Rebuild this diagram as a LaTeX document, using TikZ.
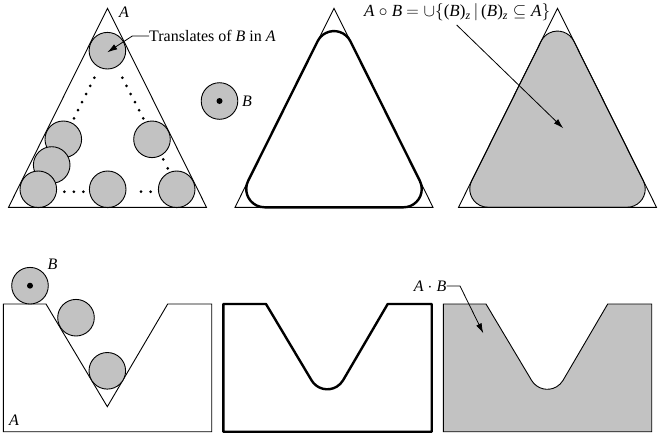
\documentclass[tikz,border=0pt]{standalone}
\usepackage{amsmath}
\usepackage{fontspec}
\setmainfont{Liberation Serif}
\usetikzlibrary{arrows.meta}
\definecolor{fillgray}{RGB}{194,194,194}
\begin{document}
\begin{tikzpicture}[x=1pt,y=-1pt,
  thin line/.style={line width=0.9pt, black},
  thick line/.style={line width=2.4pt, black, line join=round},
  disk/.style={circle, draw=black, line width=0.9pt, fill=fillgray, minimum size=36.6pt, inner sep=0pt},
  lbl/.style={font=\fontsize{16}{19}\selectfont, inner sep=0pt},
  ptr/.style={line width=0.8pt, -{Latex[length=10pt,width=6pt]}},
  rtri/.pic={
    \path[pic actions] (-69.45,199) -- (69.45,199) arc[start angle=90, end angle=-26.45, radius=18.3]
      -- (16.38,32.93) arc[start angle=-26.45, end angle=-153.55, radius=18.3]
      -- (-85.84,172.54) arc[start angle=206.45, end angle=90, radius=18.3] -- cycle;
  },
  tri/.pic={\draw[line width=0.9pt] (0,0) -- (-99,199) -- (99,199) -- cycle;}
]
\useasboundingbox (0,0) rectangle (658,434);

% ---------- Panel 1 ----------
\node[disk] (c1) at (107.4,50.7) {};
\node[disk] (c2) at (63.3,139.3) {};
\node[disk] (c3) at (51.7,165) {};
\node[disk] (c4) at (38.3,189.3) {};
\node[disk] (c5) at (107.7,189.3) {};
\node[disk] (c6) at (152,139.3) {};
\node[disk] (c7) at (176.7,189.3) {};
\pic at (107.5,8.3) {tri};
\foreach \p in {(94.3,77.7),(90.2,85.8),(86.2,94),(82.1,102.1),(78,110.2),(74,118.3),
  (122.3,77.7),(126.5,85.8),(130.7,94),(134.9,102.1),(139.1,110.2),(143.3,118.3),
  (163.3,159.3),(167.7,168.3),
  (64.3,191.7),(73.8,191.7),(83.3,191.7),
  (141,191.7),(150.7,191.7)}
  \fill \p circle (1.5);
\node[lbl, anchor=south west] (lA1) at (119,17.5) {\textit{A}};
\node[lbl, anchor=west] (ltr) at (149,36) {Translates of \textit{B} in \textit{A}};
\coordinate (t1) at (107.3,52.3);
\draw[ptr] (ltr.west) -- (132.3,36) -- (t1);

% structuring element B
\node[disk] (bB) at (219.5,101) {};
\fill (bB.center) circle (3);
\node[lbl, anchor=west] (lB1) at (242,101) {\textit{B}};

% ---------- Panel 2 ----------
\pic at (334,8.3) {tri};
\pic[thick line, draw] at (334,8.3) {rtri};

% ---------- Panel 3 ----------
\pic[fill=fillgray, draw=black, line width=0.9pt] at (557.5,8.3) {rtri};
\pic at (557.5,8.3) {tri};
\node[lbl, font=\fontsize{17}{20}\selectfont, anchor=west] (lopen) at (364,12.5)
  {\textit{A} $\circ$ \textit{B} $= \cup\{$(\textit{B})$_{\textit{z}}\,|\,$(\textit{B})$_{\textit{z}}\;{\subseteq}\;$\textit{A}$\}$};
\coordinate (s3) at (456.7,25);
\coordinate (t3) at (563.3,128.3);
\draw[ptr] (s3) -- (t3);

% ---------- Panel 4 ----------
\draw[thin line] (3.3,304) -- (46,304) -- (107.3,406.7) -- (167.7,304) -- (211.7,304)
  -- (211.7,431.7) -- (3.3,431.7) -- cycle;
\node[disk] (d1) at (30,285.7) {};
\fill (d1.center) circle (3);
\node[disk] (d2) at (76,317.7) {};
\node[disk] (d3) at (107.3,370.8) {};
\node[lbl, anchor=west] (lB2) at (47.5,264) {\textit{B}};
\node[lbl, anchor=west] (lA2) at (9,420) {\textit{A}};

% ---------- Panel 5 ----------
\draw[thick line] (223.3,304) -- (266,304) -- (311.58,380.36) arc[start angle=149.2, end angle=30.8, radius=18.3]
  -- (387.7,304) -- (431.7,304) -- (431.7,431.7) -- (223.3,431.7) -- cycle;

% ---------- Panel 6 ----------
\draw[thin line, fill=fillgray] (443.3,304) -- (486,304) -- (531.58,380.36) arc[start angle=149.2, end angle=30.8, radius=18.3]
  -- (607.7,304) -- (651.7,304) -- (651.7,431.7) -- (443.3,431.7) -- cycle;
\node[lbl, anchor=east] (lclose) at (446.5,286) {\textit{A} $\cdot$ \textit{B}};
\coordinate (t6) at (483.3,333.3);
\draw[ptr] (lclose.east) -- (460,286) -- (t6);
\end{tikzpicture}
\end{document}
